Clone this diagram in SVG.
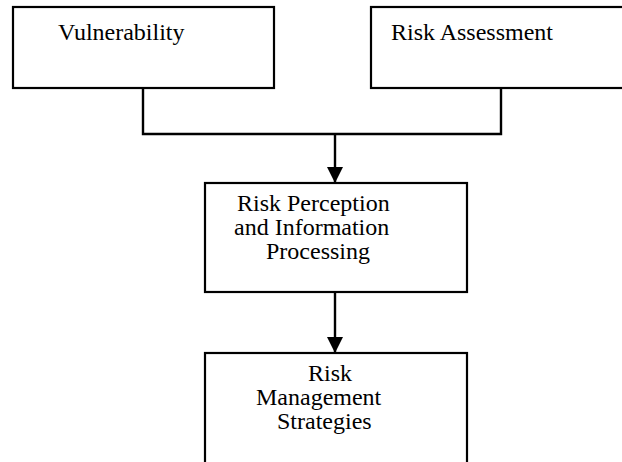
<svg xmlns="http://www.w3.org/2000/svg" width="622" height="462" viewBox="0 0 622 462">
<style>
.box{fill:#fff;stroke:#000;stroke-width:2.2}
.lbl{font-family:"Liberation Serif","Times New Roman",serif;font-size:24px;fill:#000}
.con{fill:none;stroke:#000;stroke-width:2.4}
</style>
<defs>
<marker id="ah" markerUnits="userSpaceOnUse" markerWidth="20" markerHeight="16" refX="18" refY="9" orient="auto" viewBox="0 0 18 18">
<path d="M0,0 L18,9 L0,18 Z" fill="#000"/>
</marker>
</defs>
<rect width="622" height="462" fill="#fff"/>
<g id="connectors">
<path class="con" d="M143,88 V134 H501 V88"/>
<path class="con" d="M335,134 V183" marker-end="url(#ah)"/>
<path class="con" d="M335,292 V353" marker-end="url(#ah)"/>
</g>
<g id="vulnerability">
<rect class="box" x="13" y="7" width="261" height="81"/>
<text class="lbl" x="58" y="40">Vulnerability</text>
</g>
<g id="risk-assessment">
<rect class="box" x="371" y="7" width="280" height="81"/>
<text class="lbl" x="391" y="40">Risk Assessment</text>
</g>
<g id="risk-perception">
<rect class="box" x="205" y="183" width="262" height="109"/>
<text class="lbl" x="237" y="211">Risk Perception</text>
<text class="lbl" x="234" y="235">and Information</text>
<text class="lbl" x="266" y="259">Processing</text>
</g>
<g id="risk-management">
<rect class="box" x="205" y="353" width="262" height="130"/>
<text class="lbl" x="308" y="381">Risk</text>
<text class="lbl" x="256" y="405">Management</text>
<text class="lbl" x="277" y="429">Strategies</text>
</g>
</svg>
